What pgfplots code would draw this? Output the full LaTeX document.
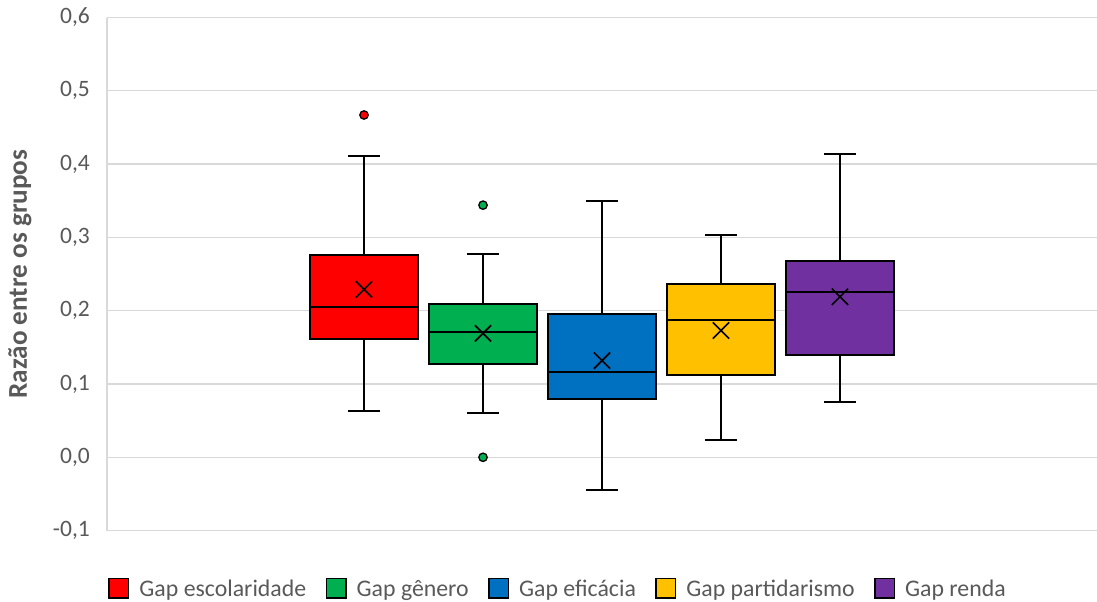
\documentclass[border=0pt]{standalone}
\usepackage{pgfplots}
\pgfplotsset{compat=1.18}
\usepgfplotslibrary{statistics}
\usepackage{fontspec}
\setmainfont{Carlito}

\definecolor{cRed}{HTML}{FF0000}
\definecolor{cGreen}{HTML}{00B050}
\definecolor{cBlue}{HTML}{0070C0}
\definecolor{cYellow}{HTML}{FFC000}
\definecolor{cPurple}{HTML}{7030A0}
\definecolor{txtgray}{HTML}{595959}
\definecolor{gridgray}{HTML}{D9D9D9}

\begin{document}
\begin{tikzpicture}
\begin{axis}[
  at={(107pt,71.4pt)}, anchor=south west,
  scale only axis, width=990pt, height=513.1pt,
  xmin=-4.16, xmax=4.16,
  ymin=-0.1, ymax=0.6,
  ytick={-0.1,0,0.1,0.2,0.3,0.4,0.5,0.6},
  xtick=\empty,
  ymajorgrids,
  grid style={draw=gridgray, line width=1.3pt},
  axis x line=none,
  axis y line*=left,
  y axis line style={draw=gridgray, line width=1.3pt, -},
  major tick length=0pt,
  yticklabel style={font=\fontsize{23.5}{28}\selectfont, text=txtgray, anchor=east, inner sep=0pt, xshift=-17pt,
    /pgf/number format/.cd, fixed, fixed zerofill, precision=1, use comma, assume math mode=true},
  ylabel={Razão entre os grupos},
  every axis y label/.style={at={(axis description cs:-0.0879,0.5)}, rotate=90, anchor=center,
    font=\bfseries\fontsize{27.2}{32}\selectfont, text=txtgray},
  legend columns=5,
  legend style={at={(axis description cs:0.0015,-0.1119)}, anchor=west, draw=none, fill=none,
    inner sep=0pt, outer sep=0pt,
    font=\fontsize{23.8}{29}\selectfont, text=txtgray,
    nodes={inner sep=0pt},
    /tikz/every odd column/.append style={column sep=10pt},
    /tikz/every even column/.append style={column sep=19.5pt}},
  legend cell align=left,
  boxplot/draw direction=y,
  boxplot/box extend=0.912,
  boxplot/whisker extend=0.27,
]

% legend swatches
\addlegendimage{legend image code/.code={\draw[draw=black, fill=cRed, line width=1.5pt] (0pt,-9pt) rectangle (19.5pt,10.5pt);}}
\addlegendentry{Gap escolaridade}
\addlegendimage{legend image code/.code={\draw[draw=black, fill=cGreen, line width=1.5pt] (0pt,-9pt) rectangle (19.5pt,10.5pt);}}
\addlegendentry{Gap gênero}
\addlegendimage{legend image code/.code={\draw[draw=black, fill=cBlue, line width=1.5pt] (0pt,-9pt) rectangle (19.5pt,10.5pt);}}
\addlegendentry{Gap eficácia}
\addlegendimage{legend image code/.code={\draw[draw=black, fill=cYellow, line width=1.5pt] (0pt,-9pt) rectangle (19.5pt,10.5pt);}}
\addlegendentry{Gap partidarismo}
\addlegendimage{legend image code/.code={\draw[draw=black, fill=cPurple, line width=1.5pt] (0pt,-9pt) rectangle (19.5pt,10.5pt);}}
\addlegendentry{Gap renda}

% Gap escolaridade
\addplot[forget plot, boxplot prepared={draw position=-2,
    lower whisker=0.063, lower quartile=0.162, median=0.205,
    upper quartile=0.276, upper whisker=0.411},
  draw=black, fill=cRed, line width=2pt,
  mark=*, mark size=4.2pt, mark options={fill=cRed, draw=black, line width=1.3pt}]
  table[row sep=\\, y index=0] {data\\ 0.467\\};

% Gap genero
\addplot[forget plot, boxplot prepared={draw position=-1,
    lower whisker=0.061, lower quartile=0.127, median=0.171,
    upper quartile=0.209, upper whisker=0.277},
  draw=black, fill=cGreen, line width=2pt,
  mark=*, mark size=4.2pt, mark options={fill=cGreen, draw=black, line width=1.3pt}]
  table[row sep=\\, y index=0] {data\\ 0.344\\ 0.0\\};

% Gap eficacia
\addplot[forget plot, boxplot prepared={draw position=0,
    lower whisker=-0.044, lower quartile=0.079, median=0.116,
    upper quartile=0.196, upper whisker=0.349},
  draw=black, fill=cBlue, line width=2pt] coordinates {};

% Gap partidarismo
\addplot[forget plot, boxplot prepared={draw position=1,
    lower whisker=0.024, lower quartile=0.112, median=0.187,
    upper quartile=0.236, upper whisker=0.303},
  draw=black, fill=cYellow, line width=2pt] coordinates {};

% Gap renda
\addplot[forget plot, boxplot prepared={draw position=2,
    lower whisker=0.076, lower quartile=0.140, median=0.225,
    upper quartile=0.268, upper whisker=0.414},
  draw=black, fill=cPurple, line width=2pt] coordinates {};

% means
\addplot[forget plot, only marks, mark=x, mark size=11.5pt,
  mark options={draw=black, line width=1.7pt}]
  coordinates {(-2,0.229) (-1,0.169) (0,0.132) (1,0.173) (2,0.219)};

\end{axis}
\pgfresetboundingbox
\path[use as bounding box] (0pt,0pt) rectangle (1097pt,602pt);
\end{tikzpicture}
\end{document}
